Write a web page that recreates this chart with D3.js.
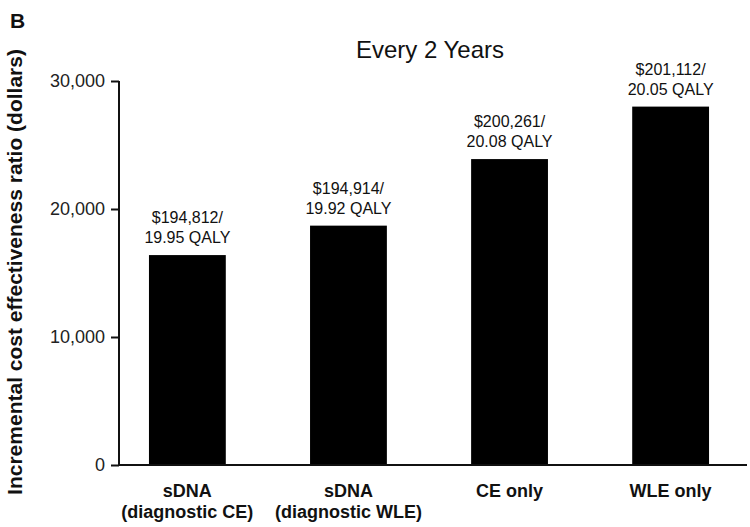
<!DOCTYPE html>
<html>
<head>
<meta charset="utf-8">
<script src="https://cdn.jsdelivr.net/npm/d3@7"></script>
<style>
  html, body { margin: 0; padding: 0; background: #fff; }
  svg { display: block; font-family: Arial, "Liberation Sans", Helvetica, sans-serif; }
</style>
</head>
<body>
<svg id="chart" width="750" height="527"></svg>
<script>
const categories = [
  ["sDNA", "(diagnostic CE)"],
  ["sDNA", "(diagnostic WLE)"],
  ["CE only"],
  ["WLE only"]
];
const values = [16400, 18700, 23900, 28000];
const barLabels = [
  ["$194,812/", "19.95 QALY"],
  ["$194,914/", "19.92 QALY"],
  ["$200,261/", "20.08 QALY"],
  ["$201,112/", "20.05 QALY"]
];
const yTicks = [0, 10000, 20000, 30000];
const titleText = "Every 2 Years";
const yTitle = "Incremental cost effectiveness ratio (dollars)";
const panelLetter = "B";

(function () {
const svg = d3.select("#chart");
const mLeft = 119, mRight = 739, axisEnd = 747, mTop = 81, mBottom = 465;

const x = d3.scaleBand()
  .domain(d3.range(categories.length))
  .range([mLeft, mRight])
  .paddingInner(0.523)
  .paddingOuter(0.186);

const y = d3.scaleLinear().domain([0, 30000]).range([mBottom, mTop]);

// bars
svg.append("g").selectAll("rect").data(values).join("rect")
  .attr("x", (d, i) => x(i))
  .attr("y", d => y(d))
  .attr("width", x.bandwidth())
  .attr("height", d => y(0) - y(d))
  .attr("fill", "#000");

// bar labels
const lbl = svg.append("g").attr("font-size", 16).attr("fill", "#111").attr("text-anchor", "middle");
barLabels.forEach((lines, i) => {
  lines.forEach((t, j) => {
    lbl.append("text")
      .attr("x", x(i) + x.bandwidth() / 2)
      .attr("y", y(values[i]) - 12 - (lines.length - 1 - j) * 20)
      .text(t);
  });
});

// y axis
const yAxis = svg.append("g")
  .attr("transform", `translate(${mLeft},0)`)
  .call(d3.axisLeft(y).tickValues(yTicks).tickSize(8).tickPadding(6)
    .tickFormat(d3.format(",")));
yAxis.select(".domain").attr("stroke-width", 2).attr("stroke", "#111")
  .attr("d", `M0,${mBottom}V${mTop}`);
yAxis.selectAll(".tick line").attr("stroke-width", 2).attr("stroke", "#111");
yAxis.selectAll(".tick text").attr("font-size", 18).attr("fill", "#222")
  .attr("font-family", "Arial, 'Liberation Sans', sans-serif");

// x axis baseline
svg.append("line")
  .attr("x1", mLeft - 1).attr("x2", axisEnd)
  .attr("y1", y(0)).attr("y2", y(0))
  .attr("stroke", "#111").attr("stroke-width", 2);

// category labels
const cat = svg.append("g").attr("font-size", 18).attr("font-weight", "bold")
  .attr("fill", "#111").attr("text-anchor", "middle");
categories.forEach((lines, i) => {
  lines.forEach((t, j) => {
    cat.append("text")
      .attr("x", x(i) + x.bandwidth() / 2)
      .attr("y", 497 + j * 21)
      .text(t);
  });
});

// title
svg.append("text")
  .attr("x", 430).attr("y", 58)
  .attr("text-anchor", "middle")
  .attr("font-size", 24)
  .attr("fill", "#111")
  .text(titleText);

// y title
svg.append("text")
  .attr("transform", `translate(22,272) rotate(-90)`)
  .attr("text-anchor", "middle")
  .attr("font-size", 21)
  .attr("font-weight", "bold")
  .attr("fill", "#111")
  .text(yTitle);

// panel letter
svg.append("text")
  .attr("x", 10).attr("y", 28)
  .attr("font-size", 21)
  .attr("font-weight", "bold")
  .attr("fill", "#111")
  .text(panelLetter);
})();
</script>
</body>
</html>
